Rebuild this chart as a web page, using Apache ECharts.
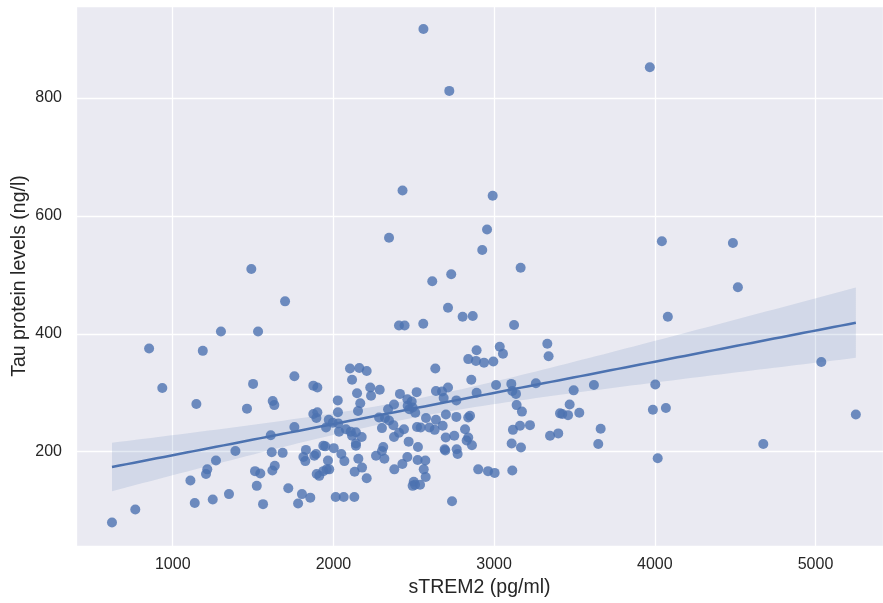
<!DOCTYPE html>
<html>
<head>
<meta charset="utf-8">
<script src="https://cdn.jsdelivr.net/npm/echarts@6.0.0/dist/echarts.min.js"></script>
<style>
  html, body { margin: 0; padding: 0; background: #fff; }
  #echart-div { width: 883px; height: 603px; }
</style>
</head>
<body>
<div id="echart-div"></div>
<script>
// sTREM2 (pg/ml) and tau (ng/l), same order
const strem2 = [
  1489,1300,1531,853,1187,935,1500,1147,1462,1622,1632,1610,1390,1616,1269,1215,1207,1110,1512,1545,
  1620,1635,1523,1137,1249,1350,1562,767,622,2346,1699,2408,2443,2430,2560,2721,3969,2991,2956,4044,
  2103,2161,2207,2116,1757,1875,1900,2229,2288,2147,2234,2414,2027,2167,2460,2487,2518,2377,2462,2493,
  2472,2153,2028,1875,1900,1894,2509,2340,2284,2321,2346,1971,1996,2030,1954,2035,2078,2108,2116,2140,
  2176,2140,2140,2302,2373,2439,2408,2377,1757,2520,2468,1937,1949,2002,1829,1892,1881,2049,2310,2302,
  2265,2317,2460,2526,1684,1813,1825,1966,2068,2155,2524,1958,1937,1974,1896,1912,2178,2132,2429,2379,
  2207,1719,1804,1856,1780,2014,2064,2130,2500,2508,2493,2559,3124,2891,3035,3055,3331,3339,2926,3165,
  2733,2615,2713,2804,2867,2839,2887,2937,2995,2634,2858,3012,3107,3113,3136,3260,2638,2676,2713,2686,
  2765,2891,3140,3173,2700,2576,2638,2765,2839,2850,2543,2597,2630,2680,2819,3117,3161,3223,3410,3399,
  3348,2699,2752,2839,2829,2862,3109,3167,2692,2696,2767,2773,2572,2562,2574,2539,2901,2962,3003,3113,
  2738,4486,4517,4081,5036,3621,4003,3495,3470,3424,3460,3530,3988,4069,5251,3663,3648,4675,4018
];
const tau = [
  510,404,404,375,371,308,315,281,273,286,279,228,201,199,185,170,162,151,167,163,
  168,176,142,113,119,128,111,102,80,563,455,414,414,643,917,812,852,634,577,557,
  341,342,337,322,328,312,309,309,305,299,295,298,287,282,289,285,301,280,278,275,
  272,269,267,264,267,257,266,272,258,257,253,254,249,248,241,234,238,234,227,233,
  225,214,210,240,245,238,232,225,242,242,217,210,209,206,203,196,193,196,208,201,
  193,188,191,208,198,191,184,185,184,188,186,170,167,170,162,159,173,166,179,170,
  155,138,128,122,112,123,123,123,149,144,142,417,415,372,378,366,383,362,542,512,
  501,489,444,429,430,357,354,351,353,341,322,313,315,303,298,316,303,302,309,291,
  287,300,279,268,263,257,254,259,258,261,241,241,237,244,238,237,244,245,265,231,
  227,224,227,224,219,211,214,207,204,202,204,196,185,170,157,144,170,167,164,168,
  116,554,479,429,352,313,314,304,280,264,262,266,271,274,263,239,213,213,189
];
const xTicks = [1000, 2000, 3000, 4000, 5000];
const yTicks = [200, 400, 600, 800];

(()=>{
  const blue = '#4C72B0';
  const ink = '#262626';

  const F = {
    // ordinary least squares + 95% confidence band of the mean
    fit(){
      const n = strem2.length;
      const mx = strem2.reduce((s, v)=>s + v, 0) / n;
      const my = tau.reduce((s, v)=>s + v, 0) / n;
      let sxx = 0, sxy = 0;
      strem2.forEach((x, i)=>{
        sxx += (x - mx) * (x - mx);
        sxy += (x - mx) * (tau[i] - my);
      });
      const b = sxy / sxx;
      const a = my - b * mx;
      let sse = 0;
      strem2.forEach((x, i)=>{
        const r = tau[i] - (a + b * x);
        sse += r * r;
      });
      const s = Math.sqrt(sse / (n - 2));
      const t = 1.971;
      const lo = Math.min(...strem2), hi = Math.max(...strem2);
      const line = [], upper = [], lower = [];
      for(let k = 0; k <= 100; k++){
        const x = lo + (hi - lo) * k / 100;
        const y = a + b * x;
        const h = t * s * Math.sqrt(1 / n + (x - mx) * (x - mx) / sxx);
        line.push([x, y]);
        upper.push([x, y + h]);
        lower.push([x, y - h]);
      }
      return {line, upper, lower};
    },

    getOption(){
      const reg = F.fit();
      return {
        backgroundColor: '#fff',
        animation: false,
        grid: {
          left: 76, right: 0, top: 6, bottom: 57,
          outerBoundsMode: 'none',
          containLabel: false,
          show: true, backgroundColor: '#EAEAF2', borderWidth: 0
        },
        xAxis: {
          type: 'value',
          min: 398, max: 5420,
          splitNumber: 5,
          name: 'sTREM2 (pg/ml)',
          nameLocation: 'middle',
          nameGap: 32,
          nameTextStyle: { fontFamily: 'Liberation Sans', fontSize: 19.5, color: ink },
          axisLine: { show: false },
          axisTick: { show: false },
          axisLabel: {
            fontFamily: 'Liberation Sans', fontSize: 16, color: ink, margin: 11,
            showMinLabel: false, showMaxLabel: false,
            formatter: (v)=> xTicks.includes(v) ? String(v) : ''
          },
          splitLine: { show: true, lineStyle: { color: '#fff', width: 1.3 } }
        },
        yAxis: {
          type: 'value',
          min: 40, max: 956,
          splitNumber: 5,
          name: 'Tau protein levels (ng/l)',
          nameLocation: 'middle',
          nameGap: 46,
          nameMoveOverlap: false,
          nameTextStyle: { fontFamily: 'Liberation Sans', fontSize: 19.5, color: ink },
          axisLine: { show: false },
          axisTick: { show: false },
          axisLabel: {
            fontFamily: 'Liberation Sans', fontSize: 16, color: ink, margin: 14,
            showMinLabel: false, showMaxLabel: false,
            formatter: (v)=> yTicks.includes(v) ? String(v) : ''
          },
          splitLine: { show: true, lineStyle: { color: '#fff', width: 1.3 } }
        },
        series: [
          {
            name: 'points',
            type: 'scatter',
            data: strem2.map((x, i)=>[x, tau[i]]),
            symbolSize: 10,
            itemStyle: { color: blue, opacity: 0.8 },
            z: 2,
            silent: true
          },
          {
            name: 'ci',
            type: 'custom',
            data: [[reg.line[0][0], reg.line[0][1]]],
            renderItem(params, api){
              const pts = reg.upper.map((p)=>api.coord(p))
                .concat(reg.lower.slice().reverse().map((p)=>api.coord(p)));
              return {
                type: 'polygon',
                shape: { points: pts },
                style: { fill: 'rgba(76,114,176,0.15)' }
              };
            },
            z: 3,
            silent: true
          },
          {
            name: 'fit',
            type: 'line',
            data: reg.line,
            showSymbol: false,
            lineStyle: { color: blue, width: 2.5 },
            z: 4,
            silent: true
          }
        ]
      };
    },

    init(){
      const chart = echarts.init(document.getElementById('echart-div'), null, { renderer: 'canvas' });
      chart.setOption(F.getOption());
    }
  };

  F.init();
})();
</script>
</body>
</html>
